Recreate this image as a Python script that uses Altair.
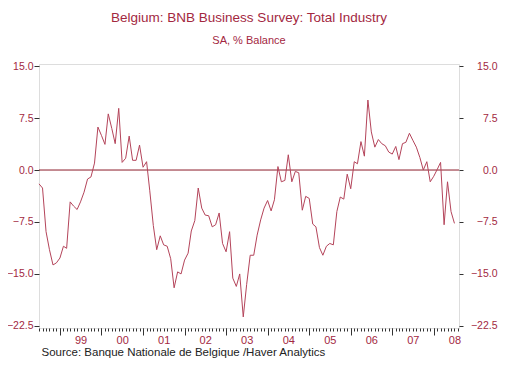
import altair as alt
import pandas as pd

# ---- data (monthly, Jul 1998 - Jul 2008), % balance, SA ----
start_month = "1998-07-01"
values = [
    -2.0, -2.6, -8.9, -11.5, -13.7, -13.4, -12.7, -11.0, -11.3, -4.6, -5.2, -5.7,
    -4.6, -3.2, -1.3, -1.0, 1.0, 6.2, 5.0, 3.7, 8.1, 6.0, 3.8, 8.9,
    1.1, 1.7, 4.9, 1.4, 1.4, 3.6, 0.4, 1.2, -3.0, -8.0, -11.5, -9.5,
    -10.8, -11.0, -12.8, -17.0, -14.7, -15.0, -13.0, -12.0, -8.8, -7.3, -2.6, -5.5,
    -6.5, -6.6, -8.2, -7.9, -6.2, -10.6, -11.8, -8.9, -15.6, -16.8, -15.0, -21.2,
    -16.5, -12.3, -12.3, -9.4, -7.2, -5.5, -4.4, -5.9, -4.3, 0.5, -1.7, -1.5,
    2.2, -1.7, -0.2, -0.4, -5.8, -3.8, -4.1, -7.8, -8.2, -11.2, -12.3, -11.0,
    -10.6, -10.8, -6.0, -3.9, -4.2, -0.6, -2.7, 1.2, 0.9, 4.1, 2.0, 10.1,
    5.5, 3.3, 4.4, 3.8, 3.5, 2.6, 2.3, 3.4, 1.5, 3.8, 4.0, 5.3,
    4.3, 3.3, 1.8, 0.0, 1.2, -1.7, -0.9, 0.1, 1.1, -7.9, -1.7, -6.0,
    -7.7,
]
years = list(range(1999, 2009))
y_ticks = [15.0, 7.5, 0.0, -7.5, -15.0, -22.5]

title_text = "Belgium: BNB Business Survey: Total Industry"
subtitle_text = "SA, % Balance"
source_text = "Source:  Banque Nationale de Belgique /Haver Analytics"

df = pd.DataFrame({
    "date": pd.date_range(start_month, periods=len(values), freq="MS"),
    "value": values,
})
zero_df = pd.DataFrame({"z": [0.0]})

# ---- style ----
FONT = "Liberation Sans"
MAROON = "#a3283f"
LINE = "#b4445a"
ZERO = "#8b1c2a"
TICK = "#333333"

x_scale = alt.Scale(domain=[alt.DateTime(year=1998, month=7, date=1),
                            alt.DateTime(year=2008, month=8, date=10)])
y_scale = alt.Scale(domain=[-22.8, 15.3], nice=False, zero=False)

major = [alt.DateTime(year=y, month=1, date=1) for y in years]
minor = []
for y in range(1998, 2009):
    for m in range(1, 13):
        if (1998, 7) <= (y, m) <= (2008, 8):
            minor.append(alt.DateTime(year=y, month=m, date=1))
mid = [alt.DateTime(year=y, month=7, date=1) for y in years]

zero = alt.Chart(zero_df).mark_rule(color=ZERO, strokeWidth=1).encode(
    y=alt.Y("z:Q", scale=y_scale, axis=None)
)

line = alt.Chart(df).mark_line(color=LINE, strokeWidth=1).encode(
    x=alt.X("date:T", scale=x_scale,
            axis=alt.Axis(orient="bottom", values=major, tickSize=7, labels=False,
                          domain=False, grid=False, title=None, tickColor=TICK)),
    y=alt.Y("value:Q", scale=y_scale,
            axis=alt.Axis(orient="left", values=y_ticks, format=".1f", tickSize=5,
                          labelPadding=1, domain=False, grid=False, title=None,
                          tickColor=TICK, labelColor=MAROON, labelFont=FONT,
                          labelFontSize=10.5)),
)

minor_layer = alt.Chart(df).mark_line(opacity=0).encode(
    x=alt.X("date:T", scale=x_scale,
            axis=alt.Axis(orient="bottom", values=minor, tickSize=3, labels=False,
                          domain=False, grid=False, title=None, tickColor=TICK)),
    y=alt.Y("value:Q", scale=y_scale,
            axis=alt.Axis(orient="right", values=y_ticks, format=".1f", tickSize=4,
                          labelPadding=34, labelAlign="right", domain=False,
                          grid=False, title=None, tickColor=TICK, labelColor=MAROON,
                          labelFont=FONT, labelFontSize=10.5)),
)

label_layer = alt.Chart(df).mark_line(opacity=0).encode(
    x=alt.X("date:T", scale=x_scale,
            axis=alt.Axis(orient="bottom", values=mid, ticks=False, tickSize=0,
                          labelPadding=6, domain=False, grid=False,
                          format="%y", labelColor=MAROON, labelFont=FONT,
                          labelFontSize=11,
                          title=source_text, titleAnchor="start", titleAlign="left",
                          titleX=2, titleY=27, titleBaseline="alphabetic",
                          titleFont=FONT, titleFontSize=11.5, titleFontWeight="normal",
                          titleColor="#222222")),
    y=alt.Y("value:Q", scale=y_scale, axis=None),
)

chart = alt.layer(zero, line, minor_layer, label_layer).resolve_axis(
    x="independent", y="independent"
).properties(
    width=420,
    height=264,
    autosize=alt.AutoSizeParams(type="none"),
    padding={"left": 31, "top": 56, "right": 43, "bottom": 30},
    title=alt.TitleParams(
        text=title_text, subtitle=subtitle_text, anchor="middle",
        font=FONT, subtitleFont=FONT, fontSize=13.5, subtitleFontSize=11,
        fontWeight="normal", color=MAROON, subtitleColor=MAROON,
        offset=15, subtitlePadding=11,
    ),
).configure_view(
    stroke="#222222", strokeWidth=1
).configure(background="white")

chart.save("out.html", embed_options={"renderer": "svg", "actions": False})
